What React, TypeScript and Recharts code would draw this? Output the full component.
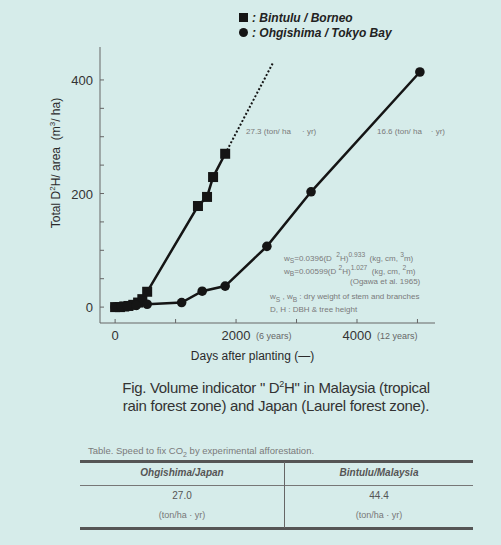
import React from 'react';
import { LineChart, Line, XAxis, YAxis } from 'recharts';

const BG = '#d6ecea';
const INK = '#151515';

// Bintulu / Borneo (squares): days after planting, total D2H/area
const bintuluDays = [0, 80, 150, 220, 300, 380, 450, 530, 1370, 1520, 1620, 1820];
const bintuluD2H = [0, 0, 1, 2, 4, 8, 14, 27, 178, 194, 229, 270];
// dotted extrapolation of the Bintulu trend
const trendDays = [1820, 2610];
const trendD2H = [270, 430];
// Ohgishima / Tokyo Bay (circles)
const ohgiDays = [0, 100, 200, 350, 530, 1100, 1440, 1820, 2510, 3240, 5040];
const ohgiD2H = [0, 1, 2, 3, 5, 8, 28, 37, 107, 203, 414];

const xTicks = [0, 500, 1000, 1500, 2000, 2500, 3000, 3500, 4000, 4500, 5000];
const xLabels: Record<number, string> = { 0: '0', 2000: '2000', 4000: '4000' };
const xNotes: Record<number, string> = { 2000: '(6 years)', 4000: '(12 years)' };
const yTicks = [0, 50, 100, 150, 200, 250, 300, 350, 400];
const yLabels: Record<number, string> = { 0: '0', 200: '200', 400: '400' };

const tableHead = ['Ohgishima/Japan', 'Bintulu/Malaysia'];
const tableRate = ['27.0', '44.4'];

const toPoints = (xs: number[], ys: number[]) => xs.map((x, i) => ({ x, y: ys[i] }));
const bintulu = toPoints(bintuluDays, bintuluD2H);
const trend = toPoints(trendDays, trendD2H);
const ohgi = toPoints(ohgiDays, ohgiD2H);

const SquareDot = (p: any) => (
  <rect key={p.index} x={p.cx - 5} y={p.cy - 5} width={10} height={10} fill={INK} />
);
const CircleDot = (p: any) => <circle key={p.index} cx={p.cx} cy={p.cy} r={4.8} fill={INK} />;

const YTick = (p: any) => {
  const v = p.payload.value;
  return (
    <g>
      <line x1={p.x} x2={p.x + 4} y1={p.y} y2={p.y} stroke="#666" />
      {yLabels[v] !== undefined && (
        <text x={p.x - 7} y={p.y + 5} textAnchor="end" fontSize={13} fill="#333">
          {yLabels[v]}
        </text>
      )}
    </g>
  );
};

const XTick = (p: any) => {
  const v = p.payload.value;
  return (
    <g>
      <line x1={p.x} x2={p.x} y1={p.y} y2={p.y - 4} stroke="#666" />
      {xLabels[v] !== undefined && (
        <text x={p.x} y={p.y + 17} textAnchor="middle" fontSize={13} fill="#333">
          {xLabels[v]}
        </text>
      )}
      {xNotes[v] && (
        <text x={p.x + 20} y={p.y + 16} fontSize={9} fill="#666">
          {xNotes[v]}
        </text>
      )}
    </g>
  );
};

const small: React.CSSProperties = { position: 'absolute', fontSize: 8, color: '#7a7a7a', whiteSpace: 'nowrap', lineHeight: '13px' };

export default function App() {
  return (
    <div
      style={{
        position: 'absolute',
        left: 0,
        top: 0,
        width: 501,
        height: 545,
        background: BG,
        fontFamily: '"Liberation Sans", Arial, sans-serif',
        overflow: 'hidden',
      }}
    >
      <LineChart width={501} height={545} margin={{ top: 47, left: 70, right: 66, bottom: 192 }}>
        <XAxis
          type="number"
          dataKey="x"
          domain={[-250, 5290]}
          ticks={xTicks}
          height={30}
          tickSize={0}
          tickMargin={0}
          tick={<XTick />}
          axisLine={{ stroke: '#666' }}
          allowDataOverflow
        />
        <YAxis
          type="number"
          dataKey="y"
          domain={[-28, 458]}
          ticks={yTicks}
          width={30}
          tickSize={0}
          tickMargin={0}
          tick={<YTick />}
          axisLine={{ stroke: '#666' }}
          allowDataOverflow
        />
        <Line
          data={trend}
          dataKey="y"
          stroke={INK}
          strokeWidth={2}
          strokeDasharray="2 2"
          dot={false}
          isAnimationActive={false}
        />
        <Line
          data={bintulu}
          dataKey="y"
          stroke={INK}
          strokeWidth={2.5}
          dot={SquareDot}
          isAnimationActive={false}
        />
        <Line
          data={ohgi}
          dataKey="y"
          stroke={INK}
          strokeWidth={2.5}
          dot={CircleDot}
          isAnimationActive={false}
        />
      </LineChart>

      {/* legend */}
      <div style={{ position: 'absolute', left: 239, top: 11, fontSize: 12, fontWeight: 'bold', fontStyle: 'italic', color: '#222', lineHeight: '15px' }}>
        <div>
          <span style={{ display: 'inline-block', width: 9, height: 9, background: INK, marginRight: 4 }} />: Bintulu / Borneo
        </div>
        <div>
          <span style={{ display: 'inline-block', width: 9, height: 9, borderRadius: 5, background: INK, marginRight: 4 }} />: Ohgishima / Tokyo Bay
        </div>
      </div>

      {/* y axis title */}
      <div
        style={{
          position: 'absolute',
          left: 55,
          top: 163,
          transform: 'translate(-50%, -50%) rotate(-90deg)',
          fontSize: 12,
          color: '#2a2a2a',
          whiteSpace: 'nowrap',
        }}
      >
        Total D<sup style={{ fontSize: 8 }}>2</sup>H/ area&nbsp; (m<sup style={{ fontSize: 8 }}>3</sup>/ ha)
      </div>

      {/* rate annotations */}
      <div style={{ ...small, left: 246, top: 125 }}>27.3 (ton/ ha&nbsp;&nbsp;&nbsp;&nbsp;&nbsp;· yr)</div>
      <div style={{ ...small, left: 377, top: 125 }}>16.6 (ton/ ha&nbsp;&nbsp;&nbsp;&nbsp;· yr)</div>

      {/* allometry notes */}
      <div style={{ ...small, left: 284, top: 248 }}>
        w<sub>S</sub>=0.0396(D&nbsp;&nbsp;<sup>2</sup>H)<sup>0.933</sup>&nbsp; (kg, cm, <sup>3</sup>m)
      </div>
      <div style={{ ...small, left: 284, top: 261 }}>
        w<sub>B</sub>=0.00599(D&nbsp;<sup>2</sup>H)<sup>1.027</sup>&nbsp; (kg, cm, <sup>2</sup>m)
      </div>
      <div style={{ ...small, left: 350, top: 275 }}>(Ogawa et al. 1965)</div>
      <div style={{ ...small, left: 270, top: 290 }}>w<sub>S</sub> , w<sub>B</sub> : dry weight of stem and branches</div>
      <div style={{ ...small, left: 270, top: 303 }}>D, H : DBH &amp; tree height</div>

      {/* x axis title */}
      <div style={{ position: 'absolute', left: 0, width: 505, top: 349, textAlign: 'center', fontSize: 12, color: '#2a2a2a' }}>
        Days after planting (—)
      </div>

      {/* figure caption */}
      <div
        style={{
          position: 'absolute',
          left: 60,
          width: 432,
          top: 375,
          textAlign: 'center',
          fontSize: 15,
          lineHeight: '18px',
          color: '#333',
          letterSpacing: -0.3,
        }}
      >
        Fig. Volume indicator " D<sup style={{ fontSize: 9 }}>2</sup>H" in Malaysia (tropical
        <br />
        rain forest zone) and Japan (Laurel forest zone).
      </div>

      {/* table */}
      <div style={{ position: 'absolute', left: 88, top: 445, fontSize: 9.5, color: '#7a7a7a', whiteSpace: 'nowrap' }}>
        Table. Speed to fix CO<sub style={{ fontSize: 7 }}>2</sub> by experimental afforestation.
      </div>
      <div style={{ position: 'absolute', left: 80, top: 460, width: 393, height: 3, background: '#555' }} />
      <div style={{ position: 'absolute', left: 80, top: 485, width: 393, height: 1, background: '#777' }} />
      <div style={{ position: 'absolute', left: 80, top: 527, width: 393, height: 3, background: '#555' }} />
      <div style={{ position: 'absolute', left: 284, top: 462, width: 1, height: 66, background: '#666' }} />
      {tableHead.map((h, i) => (
        <div
          key={h}
          style={{
            position: 'absolute',
            top: 0,
            left: i === 0 ? 80 : 285,
            width: i === 0 ? 204 : 188,
            height: 545,
            textAlign: 'center',
            color: '#555',
          }}
        >
          <div style={{ position: 'absolute', left: 0, right: 0, top: 467, fontSize: 10, fontWeight: 'bold', fontStyle: 'italic' }}>{h}</div>
          <div style={{ position: 'absolute', left: 0, right: 0, top: 490, fontSize: 10 }}>{tableRate[i]}</div>
          <div style={{ position: 'absolute', left: 0, right: 0, top: 510, fontSize: 9, color: '#777' }}>(ton/ha · yr)</div>
        </div>
      ))}
    </div>
  );
}
